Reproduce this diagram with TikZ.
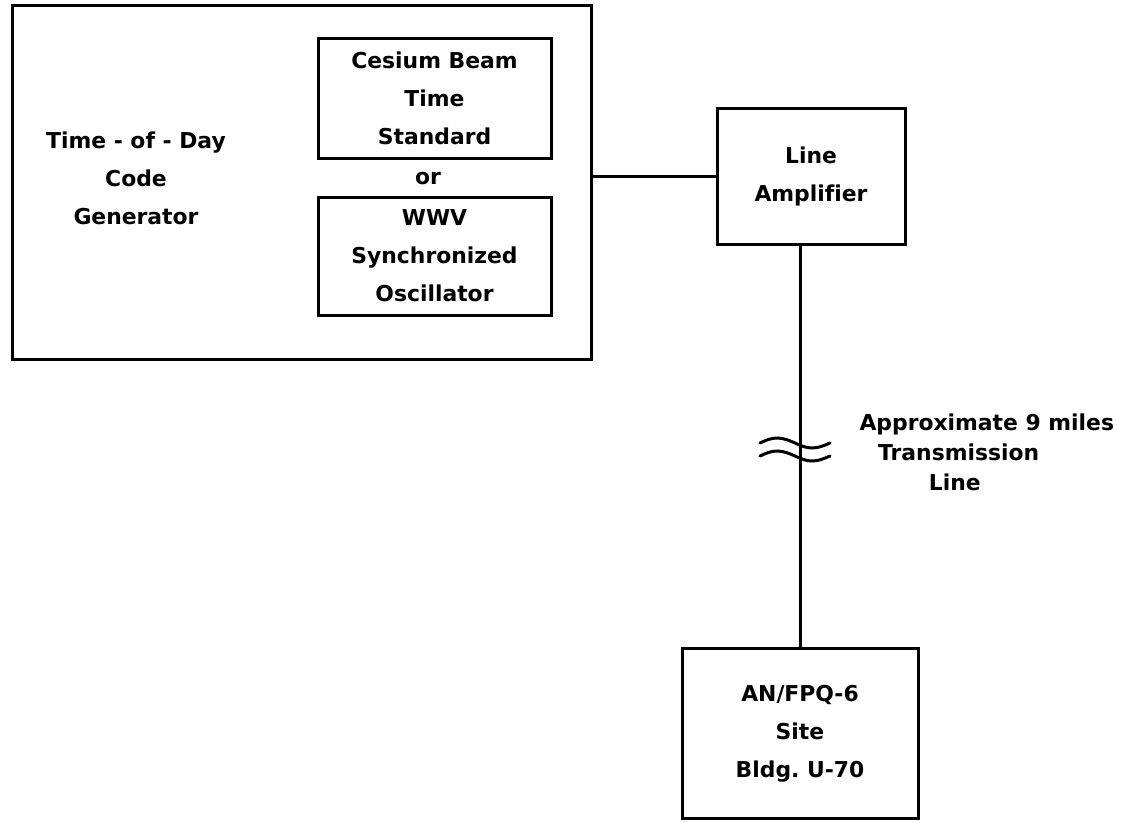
\documentclass[tikz,border=0pt]{standalone}
\usepackage{fontspec}
\setmainfont[Ligatures=NoCommon]{DejaVu Sans}

\tikzset{every picture/.style={line width=2.25pt}}
\tikzset{blk/.style={draw, line width=2.25pt, inner sep=0pt, align=center, font=\bfseries\fontsize{16.4}{28.5}\selectfont}}
\tikzset{lbl/.style={inner sep=0pt, align=center, font=\bfseries\fontsize{16.4}{28.5}\selectfont}}

\begin{document}
\begin{tikzpicture}[x=0.75pt,y=0.75pt,yscale=-1,xscale=1]
\useasboundingbox (0,0) rectangle (1145,821); %whole page

%Shape: Rectangle [id:gen]
\draw (301.5,182) node (gen) [blk, minimum width=434.25pt, minimum height=265.5pt] {};
%Shape: Rectangle [id:cesium]
\draw (434.5,98) node (cesium) [blk, minimum width=174.75pt, minimum height=90pt] {Cesium Beam\\Time\\Standard};
%Shape: Rectangle [id:wwv]
\draw (434.5,256) node (wwv) [blk, minimum width=174.75pt, minimum height=88.5pt] {WWV\\Synchronized\\Oscillator};
%Shape: Rectangle [id:amp]
\draw (811,176) node (amp) [blk, minimum width=141pt, minimum height=102pt] {Line\\Amplifier};
%Shape: Rectangle [id:site]
\draw (800,733.5) node (site) [blk, minimum width=177pt, minimum height=127.5pt] {AN/FPQ-6\\Site\\Bldg.\ U-70};

% Text Node
\draw (136,178) node (gentxt) [lbl] {Time - of - Day\\Code\\Generator};
% Text Node
\draw (428,179) node (ortxt) [lbl] {or};
% Text Node
\draw (858,452) node (lentxt) [lbl, anchor=west, align=left, font=\bfseries\fontsize{16.4}{22.5}\selectfont] {Approximate 9 miles\\\hspace*{14pt}Transmission\\\hspace*{52pt}Line};

%Straight Lines
\draw (amp.west -| gen.east) -- (amp.west) ;
\coordinate (brk) at (800,448);
\draw (brk |- amp.south) -- (brk |- site.north) ;
%Shape: Free Drawing (line break marks)
\draw [line cap=round] (760,443) sin (777,438) cos (795,443) sin (812,448) cos (830,443) ;
\draw [line cap=round] (760,456) sin (777,451) cos (795,456) sin (812,461) cos (830,456) ;

\end{tikzpicture}
\end{document}
